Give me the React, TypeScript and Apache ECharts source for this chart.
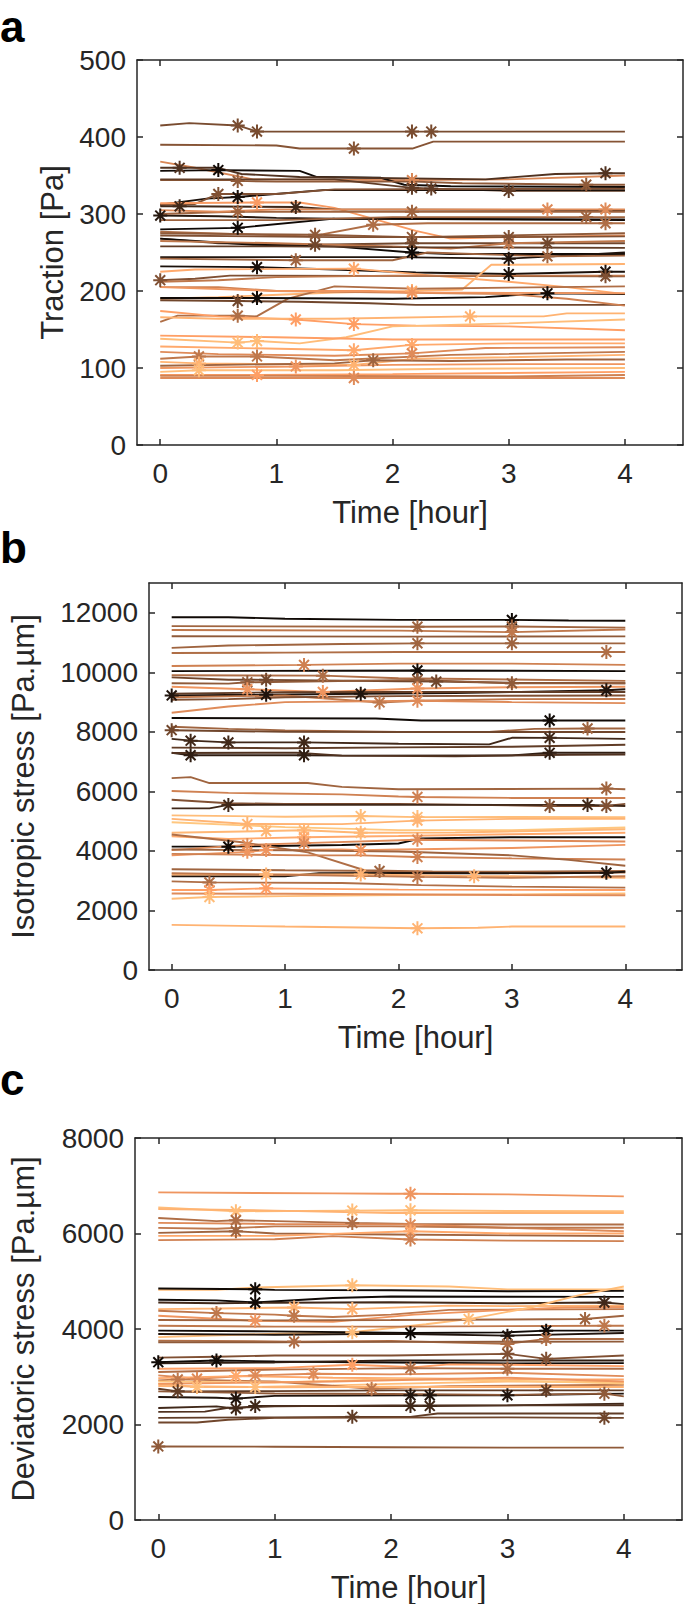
import { useEffect, useRef } from "react";
import * as echarts from "echarts";

type Pt = number[]; // [time (h), value, marker flag]

const timeTicks = [0, 1, 2, 3, 4];
const tractionTicks = [0, 100, 200, 300, 400, 500];
const isoTicks = [0, 2000, 4000, 6000, 8000, 10000, 12000];
const devTicks = [0, 2000, 4000, 6000, 8000];

// ---------- panel a: traction ----------
const tractionShades = [
  0.38, 0.42, 0.68, 0.05, 0.25, 0.45, 0.3, 0.08, 0.4, 0.78, 0.2, 0.12, 0.5, 0.7, 0.55, 0.05, 0.5,
  0.45, 0.35, 0.05, 0.6, 0.4, 0.3, 0.1, 0.5, 0.08, 0.85, 0.4, 0.6, 0.9, 0.55, 0.05, 0.35, 0.65,
  0.75, 0.8, 0.9, 0.95, 0.8, 0.85, 0.7, 0.6, 0.9, 0.5, 0.75, 0.95, 0.8, 0.7, 0.65,
];
const tractionLines: Pt[][] = [
  [[0, 415], [0.25, 418], [0.667, 415, 1], [0.833, 407, 1], [2.167, 407, 1], [2.333, 407, 1], [4, 407]],
  [[0, 390], [1, 389], [1.2, 385], [1.667, 385, 1], [2.17, 385], [2.35, 394], [4, 394]],
  [[0, 368], [0.3, 360], [0.8, 345], [2.167, 344, 1], [3, 345], [4, 350]],
  [[0, 356], [0.5, 357, 1], [1.2, 356], [1.35, 348], [1.9, 347], [2.1, 338], [2.5, 336], [4, 335]],
  [[0, 360], [0.167, 360, 1], [0.5, 360], [0.7, 352], [1.2, 348], [2.8, 345], [3.4, 352], [3.833, 353, 1], [4, 353]],
  [[0, 344], [0.6, 344], [0.667, 343, 1], [1, 342], [2.2, 342], [2.6, 340], [3.667, 338, 1], [4, 338]],
  [[0, 345], [1.5, 345], [2.167, 334, 1], [2.333, 333, 1], [3, 330, 1], [4, 330]],
  [[0, 312], [0.4, 320], [0.667, 322, 1], [1.4, 331], [4, 331]],
  [[0, 312], [0.3, 313], [0.5, 326, 1], [1, 326], [1.5, 332], [4, 333]],
  [[0, 314], [0.833, 315, 1], [1.2, 315], [1.5, 308], [2.2, 278], [2.5, 268], [3, 270], [4, 272]],
  [[0, 310], [0.167, 310, 1], [1.167, 309, 1], [1.5, 306], [4, 305]],
  [[0, 298, 1], [0.5, 297], [1, 295], [1.5, 294], [4, 293]],
  [[0, 300], [0.4, 302], [0.667, 303, 1], [1, 303], [2.167, 303, 1], [4, 303]],
  [[0, 305], [0.5, 303], [1, 306], [3.333, 306, 1], [3.833, 306, 1], [4, 306]],
  [[0, 277], [1.3, 271], [1.833, 286, 1], [2.3, 288], [3.833, 288, 1], [4, 288]],
  [[0, 280], [0.667, 282, 1], [1.5, 294], [4, 292]],
  [[0, 292], [1, 292], [2, 296], [3.667, 296, 1], [4, 296]],
  [[0, 275], [1.333, 273, 1], [2.167, 270, 1], [4, 275]],
  [[0, 268], [0.5, 262], [1.333, 260, 1], [2.167, 262, 1], [3.333, 262, 1], [4, 262]],
  [[0, 268], [0.8, 260], [1.5, 258], [2.167, 250, 1], [2.5, 248], [4, 248]],
  [[0, 265], [1, 262], [2, 258], [2.5, 255], [3, 262, 1], [4, 265]],
  [[0, 272], [1.5, 270], [3, 270, 1], [4, 271]],
  [[0, 258], [1, 258], [2, 257], [4, 256]],
  [[0, 244], [1, 244], [2, 244], [3, 242, 1], [3.5, 246], [4, 250]],
  [[0, 242], [1.167, 240, 1], [2, 240], [2.3, 250], [3.333, 245, 1], [4, 246]],
  [[0, 232], [0.833, 231, 1], [1.5, 228], [2.2, 224], [3, 222, 1], [3.833, 225, 1], [4, 225]],
  [[0, 225], [0.3, 228], [1.667, 229, 1], [2.5, 218], [3, 212], [3.5, 205], [4, 196]],
  [[0, 214, 1], [0.3, 216], [0.6, 220], [3.833, 219, 1], [4, 219]],
  [[0, 212], [0.5, 214], [1, 218], [2, 220], [4, 220]],
  [[0, 190], [0.5, 192], [1.5, 198], [2.167, 200, 1], [2.6, 202], [2.85, 234], [4, 235]],
  [[0, 160], [0.15, 168], [0.667, 168, 1], [0.83, 167], [1.1, 190], [1.5, 206], [2.2, 203], [4, 206]],
  [[0, 191], [0.833, 191, 1], [2, 190], [2.8, 192], [3.2, 196], [3.333, 197, 1], [4, 196]],
  [[0, 188], [0.667, 187, 1], [1.2, 186], [1.8, 184], [2.2, 182], [4, 182]],
  [[0, 205], [0.5, 205], [1, 200], [2, 198], [3, 196], [3.5, 190], [4, 181]],
  [[0, 205], [1, 200], [1.8, 200], [2.167, 198, 1], [4, 197]],
  [[0, 174], [0.5, 167], [1.167, 163, 1], [1.667, 157, 1], [2.2, 155], [3, 154], [4, 149]],
  [[0, 166], [0.5, 164], [1.5, 164], [2.667, 167, 1], [3.3, 167], [3.5, 171], [4, 171]],
  [[0, 138], [0.667, 133, 1], [0.833, 135, 1], [1.2, 132], [1.6, 140], [2, 154], [3, 158], [4, 163]],
  [[0, 142], [1, 140], [2, 137], [4, 137]],
  [[0, 128], [1.667, 123, 1], [2.167, 130, 1], [3, 132], [4, 132]],
  [[0, 121], [0.5, 118], [1.5, 116], [2.167, 119, 1], [2.8, 126], [4, 127]],
  [[0, 112], [0.333, 115, 1], [0.833, 115, 1], [1.5, 110], [2.5, 117], [4, 121]],
  [[0, 108], [0.333, 106, 1], [1.667, 104, 1], [2.2, 112], [3, 114], [4, 117]],
  [[0, 103], [1.5, 106], [1.833, 110, 1], [2.5, 109], [3.5, 111], [4, 111]],
  [[0, 100], [1.167, 102, 1], [2, 104], [3, 105], [4, 105]],
  [[0, 95], [0.333, 97, 1], [1.5, 97], [2.5, 99], [4, 100]],
  [[0, 91], [0.833, 91, 1], [2, 92], [4, 95]],
  [[0, 87], [1.667, 87, 1], [4, 87]],
  [[0, 90], [1, 90], [3, 89], [4, 91]],
];

// ---------- panel b: isotropic stress ----------
const isoShades = [
  0.05, 0.5, 0.6, 0.45, 0.5, 0.55, 0.65, 0.05, 0.35, 0.45, 0.55, 0.75, 0.1, 0.3, 0.6, 0.7, 0.4,
  0.05, 0.5, 0.35, 0.2, 0.3, 0.15, 0.25, 0.5, 0.65, 0.4, 0.2, 0.95, 0.9, 1.0, 0.92, 0.85, 0.05,
  0.7, 0.75, 0.55, 0.65, 0.5, 0.5, 0.1, 0.9, 0.55, 0.6, 0.8, 0.95, 0.7, 0.9,
];
const isoLines: Pt[][] = [
  [[0, 11850], [0.5, 11850], [1, 11800], [2, 11760], [3, 11760, 1], [3.5, 11740], [4, 11730]],
  [[0, 11550], [2.167, 11530, 1], [3, 11540, 1], [4, 11500]],
  [[0, 11420], [2, 11400], [3, 11350, 1], [4, 11440]],
  [[0, 11210], [2, 11200], [4, 11206]],
  [[0, 10820], [0.5, 10900], [1.5, 10950], [2.167, 10973, 1], [3, 10973, 1], [4, 10973]],
  [[0, 10650], [1, 10660], [2, 10680], [3.833, 10680, 1], [4, 10680]],
  [[0, 10210], [1.167, 10249, 1], [2, 10290], [3, 10290], [4, 10249]],
  [[0, 10040], [2.167, 10062, 1], [3, 10050], [4, 10039]],
  [[0, 9830], [0.5, 9750], [0.833, 9747, 1], [2, 9700], [2.333, 9689, 1], [3, 9650], [4, 9630]],
  [[0, 9630], [0.5, 9620], [0.667, 9665, 1], [1.333, 9700], [2.167, 9747, 1], [3, 9630, 1], [4, 9630]],
  [[0, 9900], [1.333, 9887, 1], [2, 9800], [4, 9712]],
  [[0, 9513], [0.667, 9432, 1], [1.333, 9338, 1], [2.167, 9455, 1], [3, 9500], [4, 9513]],
  [[0, 9222, 1], [0.5, 9240], [0.833, 9245, 1], [1.667, 9280, 1], [2.5, 9300], [3.833, 9397, 1], [4, 9432]],
  [[0, 9280], [1, 9330], [2, 9338], [4, 9338]],
  [[0, 9163], [1, 9222], [1.833, 8988, 1], [2.167, 9047], [3, 9100], [4, 9105]],
  [[0, 8640], [0.5, 8850], [1, 9000], [2.167, 9047, 1], [3, 9000], [4, 8965]],
  [[0, 9080], [0.5, 9100], [1, 9163], [2, 9200], [4, 9222]],
  [[0, 8463], [1.8, 8450], [2.2, 8381], [3.333, 8381, 1], [4, 8381]],
  [[0, 8171], [0.5, 8100], [1, 8050], [2, 8000], [2.8, 8000], [3.2, 8100], [3.667, 8113, 1], [4, 8113]],
  [[0, 8055, 1], [1, 8000], [2, 7996], [3, 7996], [4, 7996]],
  [[0, 7763], [0.167, 7704, 1], [0.5, 7646, 1], [1.167, 7646, 1], [2, 7600], [2.8, 7580], [3, 7800], [3.333, 7798, 1], [4, 7763]],
  [[0, 7471], [1, 7450], [2, 7480], [3, 7500], [4, 7565]],
  [[0, 7296], [0.167, 7214, 1], [1.167, 7214, 1], [1.5, 7200], [3, 7210], [3.333, 7296, 1], [4, 7296]],
  [[0, 7290], [1.1, 7300], [1.5, 7200], [2.5, 7180], [3.5, 7230], [4, 7240]],
  [[0, 6444], [0.167, 6480], [0.333, 6280], [1.2, 6280], [1.5, 6150], [2, 6070], [3.833, 6093, 1], [4, 6070]],
  [[0, 6012], [0.5, 5950], [1.5, 5900], [2, 5830], [2.167, 5813, 1], [3, 5780], [4, 5778]],
  [[0, 5720], [0.5, 5600], [1, 5580], [2, 5580], [3.333, 5510, 1], [3.833, 5510, 1], [4, 5580]],
  [[0, 5428], [0.333, 5428], [0.5, 5545, 1], [1.5, 5550], [3.667, 5545, 1], [4, 5510]],
  [[0, 5194], [1, 5150], [1.667, 5171, 1], [2.167, 5136, 1], [3, 5140], [4, 5136]],
  [[0, 5078], [0.667, 4903, 1], [1.5, 4900], [2.167, 5019, 1], [3, 5078], [4, 5078]],
  [[0, 4961], [1, 4800], [2, 4700], [3, 4700], [4, 4786]],
  [[0, 4611], [0.833, 4669, 1], [1.167, 4692, 1], [1.667, 4611, 1], [2.5, 4620], [4, 4727]],
  [[0, 4494], [0.5, 4400], [1.167, 4459, 1], [2, 4500], [3, 4560], [4, 4611]],
  [[0, 4144], [0.5, 4144, 1], [1.5, 4200], [2, 4250], [2.2, 4420], [3, 4459], [4, 4459]],
  [[0, 4027], [0.667, 4202, 1], [1.167, 4261, 1], [2.167, 4377, 1], [3, 4350], [4, 4319]],
  [[0, 3852], [0.667, 3969, 1], [0.833, 4027, 1], [1.5, 4050], [1.667, 4027, 1], [2, 4050], [3, 4100], [4, 4202]],
  [[0, 4550], [0.6, 4300], [1.2, 3950], [1.7, 3350], [2.3, 3300], [4, 3270]],
  [[0, 3900], [1.2, 3850], [1.667, 3850], [2.167, 3794, 1], [3, 3750], [4, 3712]],
  [[0, 4050], [1, 4020], [2, 3980], [3, 3850], [3.5, 3700], [4, 3502]],
  [[0, 3385], [1, 3350], [1.833, 3327, 1], [2.167, 3300], [3, 3300], [4, 3327]],
  [[0, 3150], [1, 3150], [1.3, 3250], [2, 3260], [3.3, 3250], [3.833, 3268, 1], [4, 3300]],
  [[0, 3210], [0.833, 3210, 1], [1.667, 3210, 1], [2.667, 3152, 1], [3, 3150], [4, 3093]],
  [[0, 2977], [0.333, 2942, 1], [1.5, 2920], [2.2, 2850], [3, 2800], [4, 2767]],
  [[0, 3250], [1, 3200], [2.167, 3128, 1], [3, 3100], [4, 3150]],
  [[0, 2685], [0.333, 2685, 1], [0.833, 2743, 1], [2, 2700], [4, 2685]],
  [[0, 2393], [0.333, 2451, 1], [1, 2480], [2, 2520], [3, 2540], [4, 2568]],
  [[0, 2568], [1, 2560], [3, 2520], [4, 2510]],
  [[0, 1517], [1, 1459], [2.167, 1401, 1], [2.7, 1420], [3, 1459], [4, 1459]],
];

// ---------- panel c: deviatoric stress ----------
const devShades = [
  0.75, 0.95, 0.9, 0.55, 0.7, 0.6, 0.5, 0.85, 0.65, 0.95, 0.05, 0.05, 0.2, 0.9, 0.6, 0.75, 0.95,
  0.5, 0.6, 0.05, 0.1, 0.55, 0.45, 0.4, 0.05, 0.15, 0.8, 0.55, 0.7, 0.85, 0.95, 0.6, 0.9, 0.3,
  0.1, 0.45, 0.2, 0.25, 0.3, 0.35, 0.45, 1.0, 0.75,
];
const devLines: Pt[][] = [
  [[0, 6861], [1.5, 6840], [2, 6833], [2.167, 6833, 1], [3, 6820], [4, 6777]],
  [[0, 6548], [0.667, 6465, 1], [1.667, 6480, 1], [2.167, 6486, 1], [3, 6470], [4, 6465]],
  [[0, 6514], [1, 6480], [2, 6430], [4, 6430]],
  [[0, 6326], [0.5, 6260], [0.667, 6278, 1], [1.667, 6222, 1], [2.167, 6200], [3, 6190], [4, 6187]],
  [[0, 6222], [1, 6200], [2.167, 6187, 1], [3, 6120], [4, 6048]],
  [[0, 6118], [0.5, 6100], [1, 6150], [2, 6150], [3, 6120], [4, 6120]],
  [[0, 6014], [0.667, 6048, 1], [1, 6000], [2, 5980], [4, 5944]],
  [[0, 5950], [1, 5950], [2.167, 6048, 1], [3, 6000], [4, 6000]],
  [[0, 5861], [1, 5880], [1.5, 5944], [2.167, 5875, 1], [3, 5850], [4, 5840]],
  [[0, 4819], [0.5, 4820], [0.833, 4870], [1.667, 4917, 1], [2.5, 4890], [3, 4830], [4, 4830]],
  [[0, 4847], [0.833, 4833, 1], [1, 4820], [2, 4810], [3, 4790], [4, 4798]],
  [[0, 4611], [0.5, 4600], [0.833, 4555, 1], [1.5, 4650], [2, 4680], [4, 4673]],
  [[0, 4555], [0.5, 4540], [1, 4550], [2, 4560], [3, 4540], [3.833, 4555, 1], [4, 4521]],
  [[0, 4417], [0.5, 4430], [1.167, 4451, 1], [1.667, 4417, 1], [2.5, 4490], [3, 4480], [4, 4486]],
  [[0, 4382], [0.5, 4333, 1], [1, 4300], [1.167, 4278, 1], [1.5, 4250], [2, 4300], [2.5, 4400], [4, 4417]],
  [[0, 4278], [0.833, 4174, 1], [1.5, 4150], [2.2, 4300], [3, 4400], [3.5, 4450], [4, 4460]],
  [[0, 3830], [1, 3900], [1.667, 3931, 1], [2.3, 4100], [2.667, 4208, 1], [3.2, 4450], [3.6, 4700], [4, 4889]],
  [[0, 4187], [1, 4180], [2, 4187], [3, 4200], [3.667, 4208, 1], [4, 4278]],
  [[0, 4069], [1, 4050], [2, 4050], [3, 4060], [3.833, 4069, 1], [4, 4069]],
  [[0, 3965], [1, 3950], [2.167, 3917, 1], [3, 3930], [3.333, 3965, 1], [4, 3965]],
  [[0, 3896], [1, 3880], [2, 3900], [3, 3861, 1], [4, 3917]],
  [[0, 3757], [1.167, 3736, 1], [2, 3750], [3, 3688, 1], [3.333, 3792, 1], [4, 3792]],
  [[0, 3722], [1, 3720], [2, 3730], [4, 3736]],
  [[0, 3400], [0.5, 3420], [1, 3444], [2, 3444], [3, 3480, 1], [3.333, 3375, 1], [4, 3444]],
  [[0, 3305, 1], [0.5, 3340, 1], [1, 3320], [2, 3300], [3, 3280], [4, 3285]],
  [[0, 3280], [1, 3300], [2, 3340], [3, 3340], [4, 3340]],
  [[0, 3166], [1, 3180], [1.667, 3250, 1], [2.2, 3200], [2.5, 3260], [3, 3250], [4, 3222]],
  [[0, 3100], [1, 3150], [2.167, 3180, 1], [3, 3166, 1], [4, 3166]],
  [[0, 3028], [0.333, 2958, 1], [0.833, 3028, 1], [1.333, 3062, 1], [2, 3050], [3, 3083], [4, 3014]],
  [[0, 2972], [0.667, 3014, 1], [1.5, 2980], [2.5, 2960], [3, 2944], [4, 2944]],
  [[0, 2854], [0.333, 2785, 1], [0.833, 2785, 1], [1.5, 2820], [2, 2850], [3, 2900], [4, 2889]],
  [[0, 2924], [0.167, 2944, 1], [1, 2900], [1.833, 2750, 1], [2.5, 2800], [4, 2833]],
  [[0, 2806], [1, 2780], [2, 2790], [3, 2785], [4, 2785]],
  [[0, 2750], [0.167, 2694, 1], [1, 2700], [2, 2715], [3.333, 2715, 1], [4, 2715]],
  [[0, 2576], [0.5, 2560], [0.667, 2542, 1], [1, 2600], [2.167, 2611, 1], [2.333, 2611, 1], [3, 2611, 1], [4, 2646]],
  [[0, 2694], [1, 2650], [2, 2640], [3, 2620], [3.833, 2646, 1], [4, 2590]],
  [[0, 2347], [0.5, 2380], [0.667, 2333, 1], [0.833, 2389, 1], [2.167, 2389, 1], [2.333, 2389, 1], [3, 2400], [4, 2438]],
  [[0, 2264], [0.4, 2270], [0.6, 2350], [1, 2380], [2, 2400], [4, 2403]],
  [[0, 2139], [1, 2150], [1.667, 2160, 1], [2.167, 2160], [2.4, 2229], [4, 2229]],
  [[0, 2041], [0.333, 2041], [0.6, 2100], [1, 2139], [3, 2150], [3.833, 2139, 1], [4, 2139]],
  [[0, 1540, 1], [1, 1535], [2, 1525], [3, 1515], [4, 1515]],
  [[0, 2900], [1, 2880], [2, 2950], [3, 2920], [4, 2860]],
  [[0, 2850], [1.5, 2900], [3, 2980], [4, 2900]],
];

const FONT = "'Liberation Sans', Arial, Helvetica, sans-serif";
const AX = "#262626";
const ASTERISK =
  "path://M6 0L6 12M0 6L12 6M1.76 1.76L10.24 10.24M10.24 1.76L1.76 10.24";

function copper(c: number): string {
  const r = Math.min(1, 1.25 * c);
  const g = 0.7812 * c;
  const b = 0.4975 * c;
  return `rgb(${Math.round(r * 255)},${Math.round(g * 255)},${Math.round(b * 255)})`;
}

const panels = [
  {
    label: "a", lines: tractionLines, shades: tractionShades, ticks: tractionTicks, yMax: 500,
    name: "Traction [Pa]", grid: { left: 137, top: 60, width: 546, height: 385 }, nameGap: 60,
    labelTop: 0, labelLH: 52,
  },
  {
    label: "b", lines: isoLines, shades: isoShades, ticks: isoTicks, yMax: 13000,
    name: "Isotropic stress [Pa.\u00b5m]", grid: { left: 135, top: 583, width: 547, height: 387 }, nameGap: 110,
    labelTop: 525, labelLH: 44,
  },
  {
    label: "c", lines: devLines, shades: devShades, ticks: devTicks, yMax: 8000,
    name: "Deviatoric stress [Pa.\u00b5m]", grid: { left: 133, top: 1138, width: 549, height: 384 }, nameGap: 96,
    labelTop: 1057, labelLH: 44,
  },
];

export default function App() {
  const ref = useRef<HTMLDivElement>(null);
  useEffect(() => {
    if (!ref.current) return;
    const chart = echarts.init(ref.current, undefined, { renderer: "svg" });
    const lineAx = { show: true, onZero: false, lineStyle: { color: AX, width: 1.5 } };
    const plain = (v: number) => String(v);
    const grids: any[] = [];
    const xAxes: any[] = [];
    const yAxes: any[] = [];
    const series: any[] = [];
    const graphics: any[] = [];
    panels.forEach((p, i) => {
      grids.push({ ...p.grid, containLabel: false });
      const tick = (vals: number[]) => ({ show: true, inside: true, length: 6, customValues: vals, lineStyle: { color: AX, width: 1.5 } });
      xAxes.push({
        type: "value", gridIndex: i, min: -0.2, max: 4.5, position: "bottom",
        axisLine: lineAx, axisTick: tick(timeTicks),
        axisLabel: { show: true, customValues: timeTicks, formatter: plain, margin: 14, fontSize: 28, color: AX, fontFamily: FONT },
        splitLine: { show: false },
        name: "Time [hour]", nameLocation: "middle", nameGap: 52,
        nameTextStyle: { fontSize: 31, color: AX, fontFamily: FONT },
      });
      xAxes.push({
        type: "value", gridIndex: i, min: -0.2, max: 4.5, position: "top",
        axisLine: lineAx, axisTick: tick(timeTicks), axisLabel: { show: false }, splitLine: { show: false },
      });
      yAxes.push({
        type: "value", gridIndex: i, min: 0, max: p.yMax, position: "left",
        axisLine: lineAx, axisTick: tick(p.ticks),
        axisLabel: { show: true, customValues: p.ticks, formatter: plain, margin: 11, fontSize: 28, color: AX, fontFamily: FONT },
        splitLine: { show: false },
        name: p.name, nameLocation: "middle", nameGap: p.nameGap,
        nameTextStyle: { fontSize: 31, color: AX, fontFamily: FONT },
      });
      yAxes.push({
        type: "value", gridIndex: i, min: 0, max: p.yMax, position: "right",
        axisLine: lineAx, axisTick: tick(p.ticks), axisLabel: { show: false }, splitLine: { show: false },
      });
      p.lines.forEach((line, j) => {
        const col = copper(p.shades[j]);
        series.push({
          type: "line", xAxisIndex: i * 2, yAxisIndex: i * 2, silent: true,
          symbol: ASTERISK, symbolSize: 14, showSymbol: true,
          lineStyle: { color: col, width: 1.9 },
          itemStyle: { color: col, borderColor: col, borderWidth: 2 },
          emphasis: { disabled: true },
          data: line.map((pt) => ({ value: [pt[0], pt[1]], symbol: pt[2] ? ASTERISK : "none" })),
        });
      });
      graphics.push({
        type: "text", left: 0, top: p.labelTop,
        style: { text: p.label, font: `bold 44px ${FONT}`, fill: "#000", lineHeight: p.labelLH },
      });
    });
    chart.setOption({
      animation: false,
      backgroundColor: "#fff",
      grid: grids,
      xAxis: xAxes,
      yAxis: yAxes,
      series,
      graphic: graphics,
    });
    return () => chart.dispose();
  }, []);
  return (
    <div
      ref={ref}
      style={{ position: "absolute", left: 0, top: 0, width: 685, height: 1604, background: "#fff" }}
    />
  );
}
